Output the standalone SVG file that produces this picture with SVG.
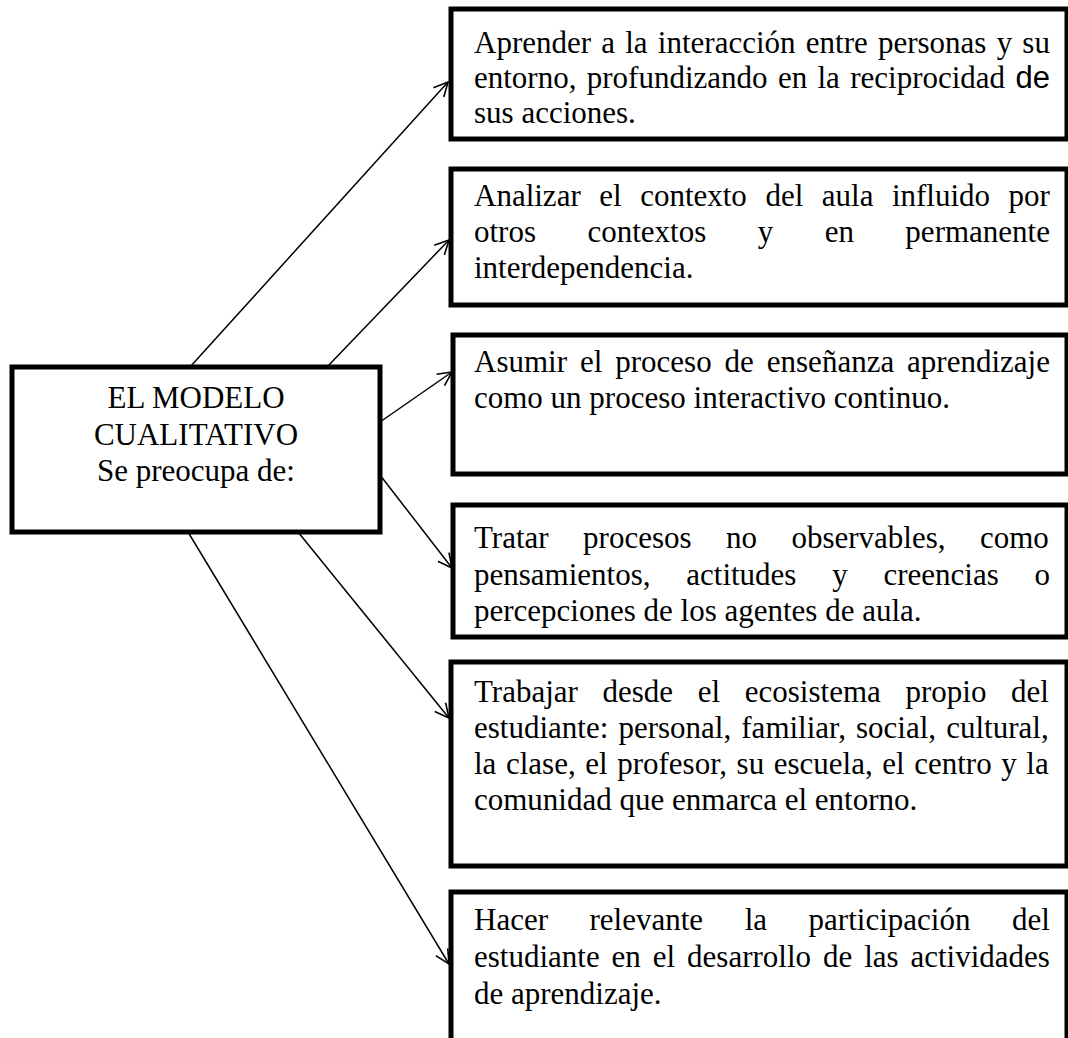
<svg xmlns="http://www.w3.org/2000/svg" width="1068" height="1038" viewBox="0 0 1068 1038">
<style>
.box{fill:#fff;stroke:#000;stroke-width:5}
.t{font-family:"Liberation Serif","Times New Roman",serif;font-size:31px;fill:#000}
.c{text-anchor:middle}
.sans{font-family:"Liberation Sans",Arial,sans-serif}
.conn line{stroke:#000;stroke-width:1.5;fill:none}
</style>
<defs>
<marker id="ah" markerUnits="userSpaceOnUse" markerWidth="18" markerHeight="18" viewBox="0 0 18 18" refX="16" refY="9" orient="auto">
<path d="M2,2 L16,9 L2,16" fill="none" stroke="#000" stroke-width="1.6"/>
</marker>
</defs>
<rect width="1068" height="1038" fill="#fff"/>
<g class="conn">
<line x1="190" y1="367" x2="448" y2="82" marker-end="url(#ah)"/>
<line x1="327" y1="367" x2="449" y2="240" marker-end="url(#ah)"/>
<line x1="380" y1="422" x2="452" y2="372" marker-end="url(#ah)"/>
<line x1="380" y1="475" x2="452" y2="568" marker-end="url(#ah)"/>
<line x1="298" y1="532" x2="449" y2="718" marker-end="url(#ah)"/>
<line x1="188" y1="532" x2="449" y2="964" marker-end="url(#ah)"/>
</g>
<g id="center">
<rect class="box" x="12" y="367" width="368" height="165"/>
<text class="t c" x="196" y="408">EL MODELO</text>
<text class="t c" x="196" y="445">CUALITATIVO</text>
<text class="t c" x="196" y="481">Se preocupa de:</text>
</g>
<g id="box1">
<rect class="box" x="451" y="9" width="616" height="130"/>
<text class="t" x="474" y="53" style="word-spacing:2.47px">Aprender a la interacción entre personas y su</text>
<text class="t" x="474" y="88" style="word-spacing:2.59px">entorno, profundizando en la reciprocidad <tspan class="sans">de</tspan></text>
<text class="t" x="474" y="123">sus acciones.</text>
</g>
<g id="box2">
<rect class="box" x="451" y="169" width="616" height="136"/>
<text class="t" x="474" y="206" style="word-spacing:10.77px">Analizar el contexto del aula influido por</text>
<text class="t" x="474" y="242" style="word-spacing:43.7px">otros contextos y en permanente</text>
<text class="t" x="474" y="278">interdependencia.</text>
</g>
<g id="box3">
<rect class="box" x="453" y="335" width="614" height="139"/>
<text class="t" x="474" y="372" style="word-spacing:5.19px">Asumir el proceso de enseñanza aprendizaje</text>
<text class="t" x="474" y="408">como un proceso interactivo continuo.</text>
</g>
<g id="box4">
<rect class="box" x="453" y="505" width="614" height="132"/>
<text class="t" x="474" y="548" style="word-spacing:26.7px">Tratar procesos no observables, como</text>
<text class="t" x="474" y="585" style="word-spacing:28px">pensamientos, actitudes y creencias o</text>
<text class="t" x="474" y="621">percepciones de los agentes de aula.</text>
</g>
<g id="box5">
<rect class="box" x="451" y="662" width="616" height="204"/>
<text class="t" x="474" y="702" style="word-spacing:16.9px">Trabajar desde el ecosistema propio del</text>
<text class="t" x="474" y="738" style="word-spacing:2.37px">estudiante: personal, familiar, social, cultural,</text>
<text class="t" x="474" y="774" style="word-spacing:1.83px">la clase, el profesor, su escuela, el centro y la</text>
<text class="t" x="474" y="810">comunidad que enmarca el entorno.</text>
</g>
<g id="box6">
<rect class="box" x="451" y="892" width="616" height="200"/>
<text class="t" x="474" y="930" style="word-spacing:33.8px">Hacer relevante la participación del</text>
<text class="t" x="474" y="967" style="word-spacing:4.17px">estudiante en el desarrollo de las actividades</text>
<text class="t" x="474" y="1004">de aprendizaje.</text>
</g>
</svg>
